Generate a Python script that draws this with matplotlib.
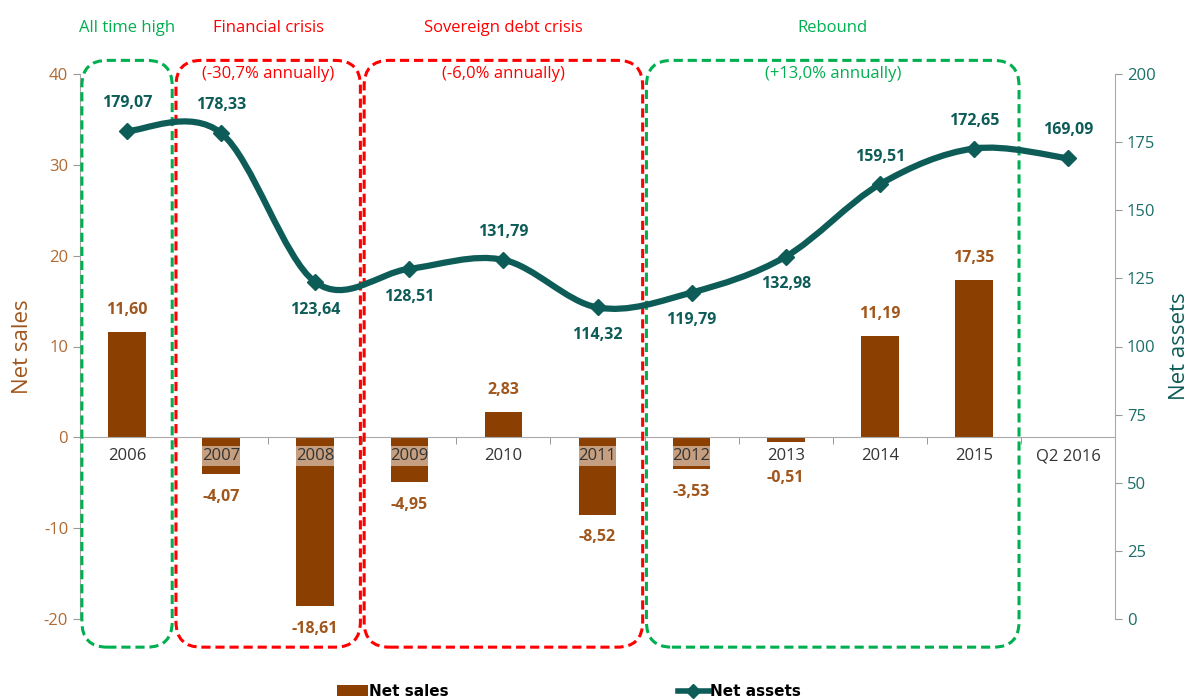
import matplotlib
matplotlib.use("Agg")
import matplotlib.pyplot as plt
import matplotlib.transforms as mtransforms
from matplotlib.patches import FancyBboxPatch, Patch
from matplotlib.path import Path
from matplotlib.patches import PathPatch
from matplotlib.lines import Line2D
import numpy as np

plt.rcParams['font.family'] = ['Open Sans', 'DejaVu Sans']
plt.rcParams['axes.unicode_minus'] = False

categories = ["2006", "2007", "2008", "2009", "2010", "2011", "2012", "2013", "2014", "2015", "Q2 2016"]
net_sales = [11.60, -4.07, -18.61, -4.95, 2.83, -8.52, -3.53, -0.51, 11.19, 17.35, np.nan]
net_assets = [179.07, 178.33, 123.64, 128.51, 131.79, 114.32, 119.79, 132.98, 159.51, 172.65, 169.09]

# periods: (first index, last index, title, subtitle, colour)
periods = [
    (0, 0, "All time high", "", "#00B050"),
    (1, 2, "Financial crisis", "(-30,7% annually)", "#FF0000"),
    (3, 5, "Sovereign debt crisis", "(-6,0% annually)", "#FF0000"),
    (6, 9, "Rebound", "(+13,0% annually)", "#00B050"),
]

brown = "#8B3F00"
brown_txt = "#A0561C"
brown_tick = "#B06A32"
teal = "#0E5C58"
teal_tick = "#1C6E69"

fig = plt.figure(figsize=(11.98, 7), dpi=100)
ax = fig.add_axes([80 / 1198, 81 / 700, 1035 / 1198, 545 / 700])
ax2 = ax.twinx()

x = np.arange(len(categories))

# bars
ax.bar(x, net_sales, width=0.4, color=brown, zorder=1)
ax.set_xlim(-0.5, len(categories) - 0.5)
ax.set_ylim(-20, 40)
ax.set_yticks(range(-20, 41, 10))
ax.tick_params(axis='y', colors="#999999", labelcolor=brown_tick, labelsize=12, length=5, direction='out')
ax.set_ylabel("Net sales", color=brown_txt, fontsize=16, labelpad=8)

ax.spines['top'].set_visible(False)
ax.spines['right'].set_visible(False)
ax.spines['left'].set_color("#AAAAAA")
ax.spines['bottom'].set_position(('data', 0))
ax.spines['bottom'].set_color("#AAAAAA")
ax.set_xticks(x)
ax.set_xticklabels(categories)
ax.set_xticks(np.arange(-0.5, len(categories), 1)[1:-1], minor=True)
ax.tick_params(axis='x', which='major', length=0, pad=8, labelsize=12, labelcolor="#333333")
ax.tick_params(axis='x', which='minor', length=5, color="#888888", direction='out')

# lighten tick labels sitting on negative bars
for lbl, v in zip(ax.get_xticklabels(), net_sales):
    if not np.isnan(v) and v < -2:
        lbl.set_bbox(dict(facecolor="white", alpha=0.5, edgecolor="none", pad=1.5))

for xi, v in zip(x, net_sales):
    if np.isnan(v):
        continue
    txt = f"{v:.2f}".replace('.', ',')
    if v >= 0:
        ax.annotate(txt, (xi, v), xytext=(0, 10), textcoords='offset points',
                    ha='center', va='bottom', color=brown_txt, fontsize=11.5, fontweight='bold')
    else:
        ax.annotate(txt, (xi, min(v, -2.0)), xytext=(0, -16), textcoords='offset points',
                    ha='center', va='center', color=brown_txt, fontsize=11.5, fontweight='bold')

# smoothed net assets line (Catmull-Rom as cubic Bezier)
pts = np.column_stack([x, net_assets]).astype(float)
ext = np.vstack([pts[0], pts, pts[-1]])
verts = [tuple(pts[0])]
codes = [Path.MOVETO]
for i in range(len(pts) - 1):
    p0, p1, p2, p3 = ext[i], ext[i + 1], ext[i + 2], ext[i + 3]
    c1 = p1 + (p2 - p0) / 6
    c2 = p2 - (p3 - p1) / 6
    verts += [tuple(c1), tuple(c2), tuple(p2)]
    codes += [Path.CURVE4] * 3
ax2.add_patch(PathPatch(Path(verts, codes), facecolor='none', edgecolor=teal, lw=4.5,
                        capstyle='round', zorder=3))
ax2.plot(x, net_assets, linestyle='none', marker='D', markersize=8, color=teal, zorder=4)

ax2.set_ylim(0, 200)
ax2.set_yticks(range(0, 201, 25))
ax2.tick_params(axis='y', colors="#999999", labelcolor=teal_tick, labelsize=12, length=5, direction='out')
ax2.set_ylabel("Net assets", color=teal, fontsize=16, labelpad=10)
for s in ['top', 'left', 'bottom']:
    ax2.spines[s].set_visible(False)
ax2.spines['right'].set_color("#AAAAAA")

above = [True, True, False, False, True, False, False, False, True, True, True]
for xi, v, up in zip(x, net_assets, above):
    txt = f"{v:.2f}".replace('.', ',')
    ax2.annotate(txt, (xi, v), xytext=(0, 20 if up else -20), textcoords='offset points',
                 ha='center', va='center', color=teal, fontsize=11.5, fontweight='bold')

# dashed rounded period boxes
ax_w = 1035 / len(categories)
ax_h = 545 / 60
aspect = (1 / ax_h) / (1 / ax_w)
blend = mtransforms.blended_transform_factory(ax.transData, ax.transAxes)
for i0, i1, title, sub, col in periods:
    x0 = i0 - 0.48
    x1 = i1 + 0.48
    y0, y1 = -23.1, 41.5
    box = FancyBboxPatch((x0, y0), x1 - x0, y1 - y0,
                         boxstyle="round,pad=0,rounding_size=0.27",
                         mutation_aspect=aspect, transform=ax.transData,
                         facecolor='none', edgecolor=col, lw=2.2,
                         linestyle=(0, (3, 1.6)), clip_on=False, zorder=5)
    ax.add_patch(box)
    cx = (x0 + x1) / 2
    ax.text(cx, 1.085, title, transform=blend, ha='center', va='center',
            color=col, fontsize=12)
    if sub:
        ax.text(cx, 1.0, sub, transform=blend, ha='center', va='center',
                color=col, fontsize=12)

handles = [Patch(facecolor=brown, edgecolor='none'),
           Line2D([0], [0], color=teal, lw=4, marker='D', markersize=7)]
fig.legend(handles, ["Net sales", "Net assets"], loc='lower center',
           bbox_to_anchor=(0.475, -0.018), ncol=2, frameon=False, columnspacing=15,
           handlelength=2.0, handletextpad=0.1,
           prop={'family': ['Liberation Sans Narrow', 'DejaVu Sans'], 'size': 11, 'weight': 'bold'})

fig.savefig("out.png", dpi=100)
